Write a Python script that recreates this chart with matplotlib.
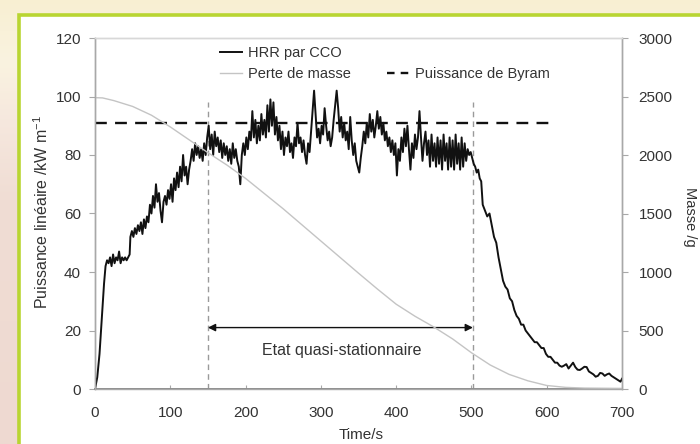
import numpy as np
import matplotlib
matplotlib.use("Agg")
import matplotlib.pyplot as plt
from matplotlib.patches import Rectangle
from matplotlib.lines import Line2D

plt.rcParams['font.family'] = ['Liberation Sans', 'DejaVu Sans']
plt.rcParams['mathtext.fontset'] = 'custom'
plt.rcParams['mathtext.rm'] = 'Liberation Sans'
plt.rcParams['mathtext.it'] = 'Liberation Sans'

# ---------------- data ----------------
hrr_time = [0, 3, 6, 9, 12, 14, 16, 18, 20, 22, 24, 26, 28, 30, 32, 34, 36, 38, 40, 42, 44, 46,
            47, 49, 51, 53, 55, 57, 59, 61, 63, 65, 67, 69, 71, 73, 75, 77, 79, 81, 83, 85, 87, 89,
            91, 93, 95, 97, 99, 101, 103, 105, 107, 109, 111, 113, 115, 117, 119, 121, 123, 125,
            127, 129, 131, 133, 135, 137, 139, 141, 143, 145, 147, 149, 151, 153, 155, 157, 159,
            161, 163, 165, 167, 169, 171, 173, 175, 177, 179, 181, 183, 185, 187, 189, 191, 193,
            195, 197, 199, 201, 203, 205, 207, 209, 211, 213, 215, 217, 219, 221, 223, 225, 227,
            229, 231, 233, 235, 237, 239, 241, 243, 245, 247, 249, 251, 253, 255, 257, 259, 261,
            263, 265, 267, 269, 271, 273, 275, 277, 279, 281, 283, 285, 287, 289, 291, 293, 295,
            297, 299, 301, 303, 305, 307, 309, 311, 313, 315, 317, 319, 321, 323, 325, 327, 329,
            331, 333, 335, 337, 339, 341, 343, 345, 347, 349, 351, 353, 355, 357, 359, 361, 363,
            365, 367, 369, 371, 373, 375, 377, 379, 381, 383, 385, 387, 389, 391, 393, 395, 397,
            399, 401, 403, 405, 407, 409, 411, 413, 415, 417, 419, 421, 423, 425, 427, 429, 431,
            433, 435, 437, 439, 441, 443, 445, 447, 449, 451, 453, 455, 457, 459, 461, 463, 465,
            467, 469, 471, 473, 475, 477, 479, 481, 483, 485, 487, 489, 491, 493, 495, 497, 499,
            501, 503, 505, 507, 509, 511, 513, 515, 518, 521, 524, 527, 530, 533, 536, 539, 542,
            545, 548, 551, 554, 557, 560, 563, 566, 569, 572, 575, 578, 581, 584, 587, 590, 593,
            596, 599, 602, 605, 608, 611, 614, 617, 620, 623, 626, 629, 632, 635, 638, 641, 644,
            647, 650, 653, 656, 659, 662, 665, 668, 671, 674, 677, 680, 683, 686, 689, 692, 695,
            698, 700]
hrr_power = [0, 4, 12, 24, 36, 42, 44, 43, 45, 42, 46, 43, 45, 44, 47, 43, 45, 44, 45, 44, 45, 46,
             52, 54, 52, 55, 53, 56, 54, 57, 53, 58, 55, 59, 57, 63, 60, 66, 62, 70, 64, 67, 61, 57,
             64, 66, 63, 68, 65, 70, 64, 72, 68, 74, 69, 76, 71, 80, 73, 76, 70, 75,
             78, 82, 78, 84, 80, 83, 79, 82, 78, 84, 80, 86, 90, 82, 87, 80, 88,
             83, 86, 81, 85, 79, 84, 80, 83, 78, 82, 77, 84, 79, 82, 78, 76, 70,
             80, 84, 80, 86, 82, 88, 85, 95, 86, 92, 84, 90, 85, 94, 87, 92, 86,
             97, 88, 99, 90, 98, 87, 93, 85, 90, 82, 88, 80, 86, 83, 88, 81, 84,
             79, 86, 83, 91, 84, 86, 81, 85, 80, 77, 84, 81, 88, 95, 102, 94, 86,
             89, 84, 90, 87, 96, 90, 85, 88, 83, 86, 92, 97, 102, 96, 88, 93, 86,
             91, 85, 88, 82, 93, 85, 80, 84, 78, 76, 74, 79, 83, 88, 84, 91, 86,
             94, 88, 92, 86, 90, 95, 89, 93, 87, 91, 85, 88, 83, 86, 81, 85, 80,
             84, 73, 82, 78, 86, 81, 89, 83, 90, 82, 75, 84, 79, 87, 82, 86, 95,
             86, 78, 84, 88, 80, 85, 76, 87, 78, 84, 76, 86, 77, 85, 75, 87, 78,
             84, 75, 86, 76, 85, 75, 87, 77, 84, 75, 86, 76, 84, 78, 82, 80, 81,
             79, 77, 76, 74, 75, 72, 71, 63, 61, 59, 60, 56, 52, 50, 45, 41, 37,
             35, 34, 31, 30, 27, 25, 24, 22, 22, 20, 19, 18, 17, 16, 16, 15, 14,
             14, 12, 11, 11, 10, 9, 9, 8, 7.6, 8, 8.5, 7, 8, 9, 7.5, 6.6, 6.5,
             7, 7.6, 7.5, 6, 5.5, 5, 4.2, 4.5, 5.5, 5.3, 4.5, 5, 5.3, 4.5, 4, 3.5, 3,
             2.5, 3.5]

mass_time = [0, 10, 25, 50, 75, 100, 125, 150, 175, 200, 250, 300, 350, 375, 400, 425, 450,
             475, 500, 525, 550, 575, 600, 625, 650, 700]
mass_g = [2490, 2488, 2465, 2415, 2340, 2240, 2130, 2020, 1915, 1800, 1540, 1265, 990, 855,
          725, 622, 530, 428, 310, 205, 125, 70, 30, 14, 8, 5]

byram_power = 91
byram_span = [0, 610]
steady_start, steady_end = 150, 502
steady_top = 98
arrow_level = 21

legend_labels = ['HRR par CCO', 'Perte de masse', '', 'Puissance de Byram']
x_ticks = [0, 100, 200, 300, 400, 500, 600, 700]
y_ticks = [0, 20, 40, 60, 80, 100, 120]
y2_ticks = [0, 500, 1000, 1500, 2000, 2500, 3000]

# ---------------- figure ----------------
W, H = 700, 444
fig = plt.figure(figsize=(7.0, 4.44), dpi=100)

# background gradient
bg = fig.add_axes([0, 0, 1, 1], zorder=0)
bg.set_axis_off()
rows = np.linspace(0, 1, 200)
stops_y = [0.0, 0.14, 0.27, 0.45, 1.0]
stops_c = np.array([[248, 239, 210], [250, 243, 224], [246, 232, 222],
                    [240, 221, 212], [238, 217, 209]]) / 255.0
grad = np.stack([np.interp(rows, stops_y, stops_c[:, k]) for k in range(3)], axis=-1)
img = np.repeat(grad[:, None, :], 10, axis=1)
bg.imshow(img, extent=[0, 1, 0, 1], aspect='auto', origin='upper')
bg.set_xlim(0, 1)
bg.set_ylim(0, 1)
bg.add_patch(Rectangle((18.5 / W, -0.05), 1.1, (H - 14.5) / H + 0.05,
                       facecolor='white', edgecolor='#b9d532', linewidth=2.6,
                       transform=bg.transAxes))

ax = fig.add_axes([95 / W, (H - 389) / H, 527 / W, 351 / H], zorder=2)
ax.set_facecolor('none')
ax2 = ax.twinx()

txt = '#333333'

ax.set_xlim(0, 700)
ax.set_ylim(0, 120)
ax2.set_ylim(0, 3000)

# mass loss (right axis)
l_mass, = ax2.plot(mass_time, mass_g, color='#c4c4c4', lw=1.0, zorder=1)
# HRR
l_hrr, = ax.plot(hrr_time, hrr_power, color='#111111', lw=1.4, zorder=4)
# Byram
l_byr, = ax.plot(byram_span, [byram_power, byram_power], color='#111111', lw=1.7,
                 dashes=(5, 3.5), zorder=3)
# steady state limits
for xv in (steady_start, steady_end):
    ax.plot([xv, xv], [0, steady_top], color='#9a9a9a', lw=1.0, dashes=(4, 3), zorder=2)
ax.annotate('', xy=(steady_start, arrow_level), xytext=(steady_end, arrow_level),
            arrowprops=dict(arrowstyle='<|-|>', color='#111111', lw=1.0,
                            mutation_scale=11, shrinkA=0, shrinkB=0), zorder=5)
ax.text((steady_start + steady_end) / 2 + 2, 13.3, 'Etat quasi-stationnaire',
        ha='center', va='center', fontsize=11.5, color=txt)

# axes styling
ax.set_xticks(x_ticks)
ax.set_yticks(y_ticks)
ax2.set_yticks(y2_ticks)
for a in (ax, ax2):
    for s in a.spines.values():
        s.set_color('#a8a8a8')
        s.set_linewidth(1.0)
ax.spines['bottom'].set_color('#8a8a8a')
ax.spines['bottom'].set_linewidth(1.4)
ax.spines['top'].set_color('#d8d8d8')
ax2.spines['top'].set_color('#d8d8d8')
ax.tick_params(axis='y', direction='out', length=4, color='#a8a8a8', labelsize=11,
               labelcolor=txt, pad=6)
ax.tick_params(axis='x', direction='in', length=3, color='#a8a8a8', labelsize=11,
               labelcolor=txt, pad=12)
ax2.tick_params(axis='y', direction='out', length=4, color='#a8a8a8', labelsize=11,
                labelcolor=txt, pad=8)

ax.set_xlabel('Time/s', fontsize=11, color=txt, va='center')
ax.xaxis.set_label_coords(0.505, -0.131)
ax.set_ylabel('Puissance linéaire /kW m$^{-1}$', fontsize=11.5, color=txt, va='center')
ax.yaxis.set_label_coords(-0.1006, 0.505)
ax2.set_ylabel('Masse /g', fontsize=10.5, color=txt, rotation=270, va='center')
ax2.yaxis.set_label_coords(1.129, 0.49)

# legend
blank = Line2D([], [], color='none')
byr_handle = Line2D([], [], color='#111111', lw=1.7, dashes=(3.2, 2.6))
leg = ax.legend([l_hrr, l_mass, blank, byr_handle], legend_labels, ncol=2,
                loc='upper left', bbox_to_anchor=(0.218, 1.006), frameon=False,
                fontsize=10.5, handlelength=1.5, handletextpad=0.4,
                columnspacing=2.5, labelspacing=0.5, borderaxespad=0.3)
for t in leg.get_texts():
    t.set_color(txt)

fig.savefig('out.png', dpi=100)
